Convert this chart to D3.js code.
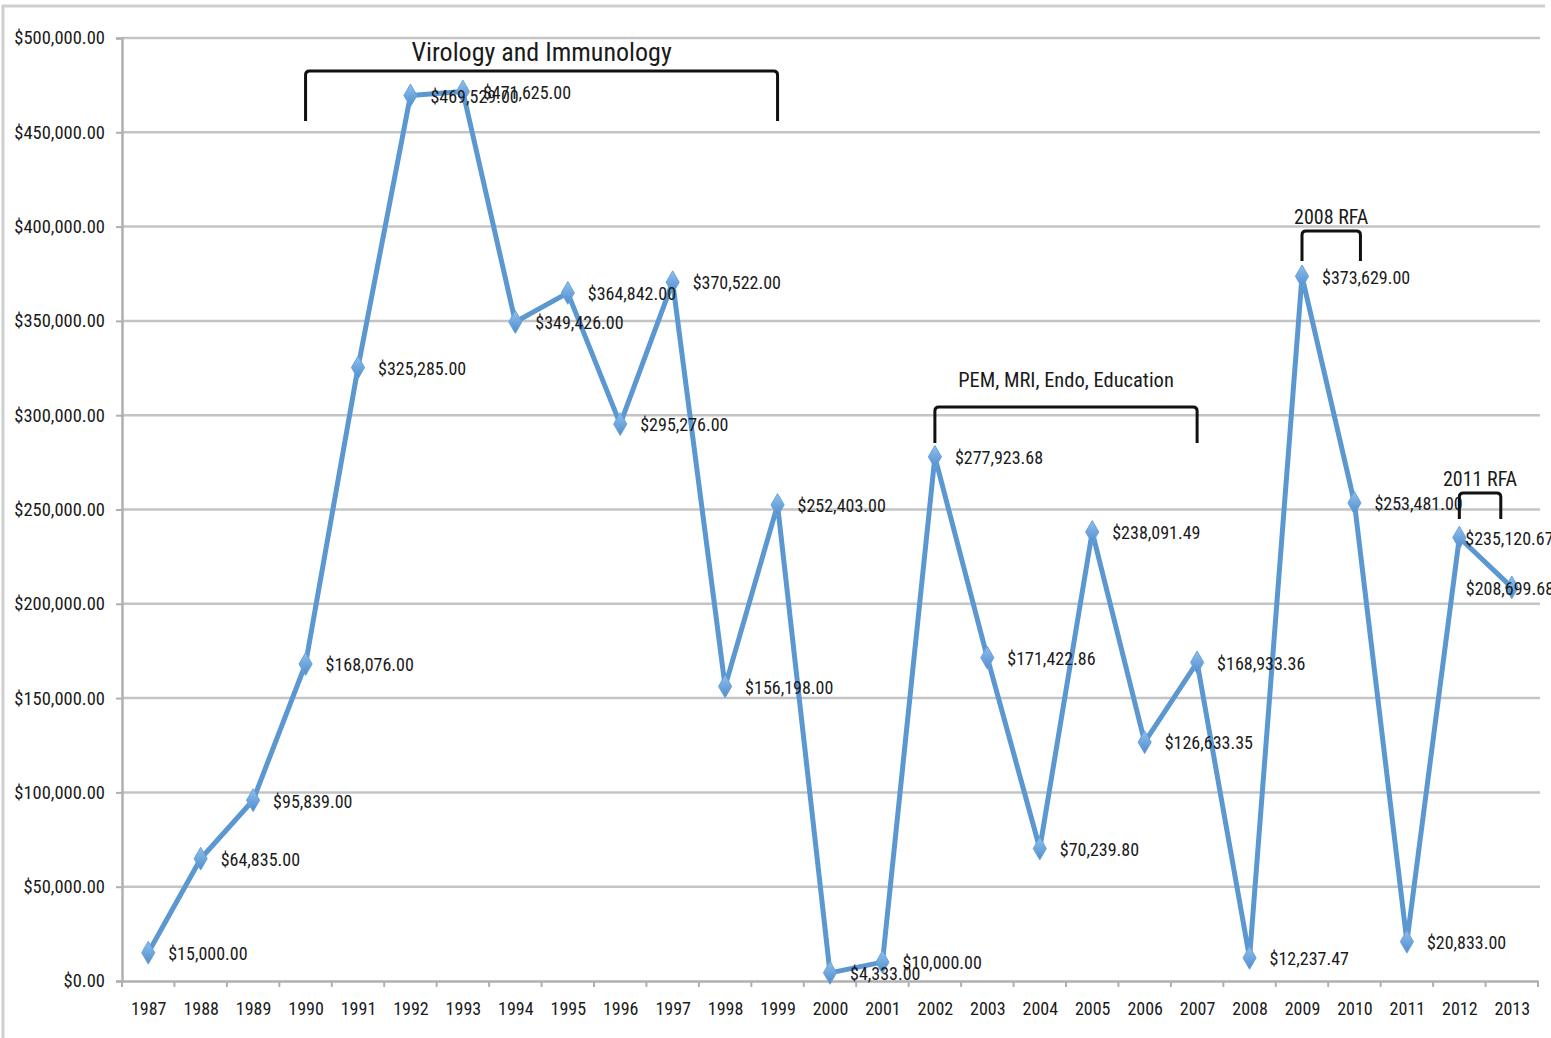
<!DOCTYPE html>
<html>
<head>
<meta charset="utf-8">
<script src="https://cdn.jsdelivr.net/npm/d3@7"></script>
<style>
  html, body { margin: 0; padding: 0; background: #fff; }
  svg text { font-family: "Liberation Sans Narrow", "Arial Narrow", "Roboto Condensed", "Liberation Sans", sans-serif; fill: #1a1a1a; }
</style>
</head>
<body>
<div class="chart"></div>
<script>
// yearly funding
const years = ["1987","1988","1989","1990","1991","1992","1993","1994","1995","1996","1997","1998","1999",
  "2000","2001","2002","2003","2004","2005","2006","2007","2008","2009","2010","2011","2012","2013"];
const amounts = [15000.00, 64835.00, 95839.00, 168076.00, 325285.00, 469529.00, 471625.00, 349426.00,
  364842.00, 295276.00, 370522.00, 156198.00, 252403.00, 4333.00, 10000.00, 277923.68, 171422.86,
  70239.80, 238091.49, 126633.35, 168933.36, 12237.47, 373629.00, 253481.00, 20833.00, 235120.67, 208699.68];
const yTicks = [0, 50000, 100000, 150000, 200000, 250000, 300000, 350000, 400000, 450000, 500000];

// bracket annotations
const bracketLabels = ["Virology and Immunology", "PEM, MRI, Endo, Education", "2008 RFA", "2011 RFA"];
const bracketFrom = ["1990", "2002", "2009", "2012"];
const bracketTo = ["1999", "2007", "2010", "2013"];

let width = 1551, height = 1038;
let mLeft = 122, mRight = 1538, mTop = 38, mBottom = 981;

let svg = d3.select(".chart")
  .append("svg")
  .attr("width", width)
  .attr("height", height);

// outer frame
svg.append("path")
  .attr("d", "M3,1038 V6 H1545")
  .attr("fill", "none")
  .attr("stroke", "#cfcfcf")
  .attr("stroke-width", 3);

let x = d3.scalePoint().domain(years).range([mLeft, mRight]).padding(0.5);
let y = d3.scaleLinear().domain([0, 500000]).range([mBottom, mTop]);
let fmt = d3.format("$,.2f");

// gridlines
svg.append("g")
  .selectAll("line")
  .data(yTicks.slice(1))
  .enter()
  .append("line")
  .attr("x1", mLeft).attr("x2", mRight + 2)
  .attr("y1", d => y(d)).attr("y2", d => y(d))
  .attr("stroke", "#c4c4c4")
  .attr("stroke-width", 2.5);

// y axis
let yAxis = svg.append("g")
  .attr("transform", "translate(" + mLeft + ",0)")
  .call(d3.axisLeft(y).tickValues(yTicks).tickFormat(fmt).tickSize(6).tickPadding(11));
yAxis.selectAll("text").style("font-size", "18.5px");

// x axis with ticks between categories
let step = x.step();
let xAxis = svg.append("g")
  .attr("transform", "translate(0," + mBottom + ")")
  .call(d3.axisBottom(x).tickSize(0).tickPadding(21));
xAxis.selectAll("text").style("font-size", "18px");
xAxis.selectAll("tick-sep")
  .data(d3.range(years.length + 1))
  .enter()
  .append("line")
  .attr("x1", i => mLeft + i * step).attr("x2", i => mLeft + i * step)
  .attr("y1", 0).attr("y2", 6)
  .attr("stroke", "#b0b0b0")
  .attr("stroke-width", 2);

svg.selectAll(".domain").attr("stroke", "#b0b0b0").attr("stroke-width", 2.5);
svg.selectAll(".tick line").attr("stroke", "#b0b0b0").attr("stroke-width", 2);

// line
let line = d3.line()
  .x((d, i) => x(years[i]))
  .y(d => y(d));

svg.append("path")
  .datum(amounts)
  .attr("d", line)
  .attr("fill", "none")
  .attr("stroke", "#5b97d1")
  .attr("stroke-width", 5)
  .attr("stroke-linejoin", "round");

// diamond markers
let defs = svg.append("defs");
let grad = defs.append("linearGradient").attr("id", "mk").attr("x1", 0).attr("y1", 0).attr("x2", 0).attr("y2", 1);
grad.append("stop").attr("offset", "0%").attr("stop-color", "#8fc0ee");
grad.append("stop").attr("offset", "100%").attr("stop-color", "#4f8ccb");

let diamond = d3.symbol().type(d3.symbolDiamond).size(150);
svg.selectAll("mySymbols")
  .data(amounts)
  .enter()
  .append("path")
  .attr("d", diamond)
  .attr("transform", (d, i) => "translate(" + x(years[i]) + "," + y(d) + ")")
  .attr("fill", "url(#mk)")
  .attr("stroke", "#6aa3da")
  .attr("stroke-width", 1);

// data labels (last two got squeezed left near the edge)
let labelNudge = { "2012": -14, "2013": -66 };
svg.selectAll("myLabels")
  .data(amounts)
  .enter()
  .append("text")
  .attr("x", (d, i) => x(years[i]) + 20 + (labelNudge[years[i]] || 0))
  .attr("y", d => y(d) + 1)
  .attr("dy", "0.35em")
  .style("font-size", "18px")
  .text(d => fmt(d));

// brackets
let bracketTop = [71, 407, 231, 493];
let bracketBottom = [121, 443, 261, 519];
let bracketEndShift = [0, 0, 6, -11];
let labelY = [61, 387, 224, 486];
let labelSize = [26, 20.5, 20, 20];

bracketLabels.forEach(function(label, i) {
  let x0 = x(bracketFrom[i]), x1 = x(bracketTo[i]) + bracketEndShift[i];
  let t = bracketTop[i], b = bracketBottom[i], r = 4;
  svg.append("path")
    .attr("d", "M" + x0 + "," + b + " V" + (t + r) + " Q" + x0 + "," + t + " " + (x0 + r) + "," + t +
      " H" + (x1 - r) + " Q" + x1 + "," + t + " " + x1 + "," + (t + r) + " V" + b)
    .attr("fill", "none")
    .attr("stroke", "#111")
    .attr("stroke-width", 3);
  svg.append("text")
    .attr("x", (x0 + x1) / 2)
    .attr("y", labelY[i])
    .attr("text-anchor", "middle")
    .style("font-size", labelSize[i] + "px")
    .text(label);
});
</script>
</body>
</html>
